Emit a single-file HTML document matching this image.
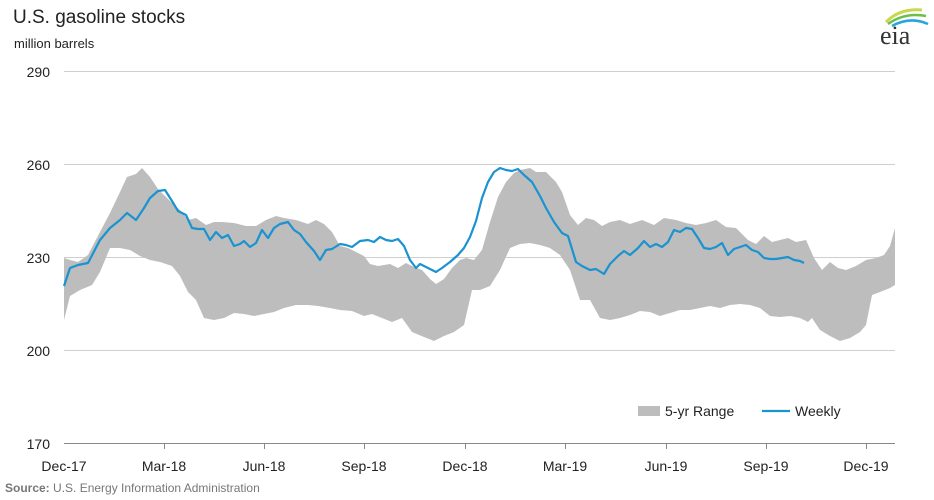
<!DOCTYPE html>
<html><head><style>
body{margin:0;background:#fff;}
svg{display:block;font-family:"Liberation Sans",Arial,sans-serif;}
</style></head><body>
<svg width="934" height="500" viewBox="0 0 934 500">
<text x="13" y="23" font-size="19" fill="#222">U.S. gasoline stocks</text>
<text x="14" y="48" font-size="13" fill="#222">million barrels</text>
<g stroke="#cfcfcf" stroke-width="1">
<line x1="64" y1="71.5" x2="895" y2="71.5"/>
<line x1="64" y1="164.5" x2="895" y2="164.5"/>
<line x1="64" y1="257.5" x2="895" y2="257.5"/>
<line x1="64" y1="350.5" x2="895" y2="350.5"/>
</g>
<g font-size="14" fill="#222" text-anchor="end">
<text x="50" y="77">290</text><text x="50" y="170">260</text><text x="50" y="263">230</text><text x="50" y="356">200</text><text x="50" y="449">170</text>
</g>
<polygon fill="#bdbdbd" points="64,258 70,260 78,262 88,255 100,232 110,213 120,192 127,177 136,174 142,168 150,177 158,189 164,195 172,203 180,210 188,220 196,218 206,225 214,222 222,222 234,223 246,226 256,226 266,220 276,216 284,218 296,220 308,224 316,220 324,224 332,232 340,246 348,248 356,252 364,256 370,264 378,266 390,264 398,268 406,263 414,267 422,270 430,279 436,284 444,279 452,268 460,260 466,258 474,260 482,250 490,222 498,197 506,182 514,173 520,170 530,168 536,172 546,172 556,182 562,192 570,215 578,225 586,218 594,220 602,226 610,222 620,220 630,224 642,220 654,225 664,218 676,220 686,223 696,225 706,223 716,220 726,227 736,228 748,240 756,244 764,236 772,242 780,240 788,238 796,242 806,240 814,258 822,270 830,262 838,268 846,270 856,266 866,260 876,258 884,255 890,246 895,228 895,285 890,288 880,292 872,295 866,325 860,332 850,338 840,341 830,336 820,330 812,318 808,322 800,318 790,316 780,317 770,316 760,308 750,305 740,304 730,305 720,308 710,306 700,308 690,310 680,310 670,313 660,316 650,312 640,311 630,315 620,318 610,320 600,318 590,300 580,300 570,270 560,255 550,248 540,245 530,243 520,244 510,248 500,270 490,286 480,290 472,290 464,325 454,332 444,336 434,341 424,337 412,332 402,318 392,322 382,318 372,314 364,316 352,311 340,310 330,308 318,306 308,305 296,305 284,308 274,312 264,314 254,316 244,314 234,313 224,318 214,320 204,318 196,300 188,292 180,276 172,266 160,262 150,260 140,256 130,250 120,248 110,248 100,272 92,285 80,290 70,296 64,320"/>
<polyline fill="none" stroke="#1a93d0" stroke-width="2.2" stroke-linejoin="round" points="64,286 70,268 78,265 88,263 100,240 110,228 120,220 127,213 136,220 144,208 150,198 158,191 165,190 172,201 178,211 186,215 192,228 198,229 204,229 210,240 216,232 222,238 228,235 234,246 240,244 244,241 250,247 256,243 262,230 268,238 274,228 280,224 288,222 294,230 300,234 306,242 314,251 320,260 326,250 332,249 340,244 346,245 352,247 360,241 368,240 374,242 380,237 386,240 392,241 398,239 404,246 410,260 416,268 420,264 428,268 436,272 442,268 450,262 458,255 464,248 470,237 476,221 482,198 488,182 494,172 500,168 506,170 512,171 518,169 524,175 532,182 540,196 546,208 554,222 562,233 568,236 576,262 582,266 590,270 596,269 604,274 610,264 618,256 624,251 630,255 638,248 644,241 650,247 656,244 662,247 668,242 674,230 680,232 686,228 692,229 698,238 704,248 710,249 716,247 722,243 728,255 734,249 740,247 746,245 752,250 758,252 764,258 770,259 776,259 782,258 788,257 794,260 800,261 804,263"/>
<line x1="64" y1="443.5" x2="895" y2="443.5" stroke="#888" stroke-width="1"/>
<g stroke="#888" stroke-width="1">
<line x1="164.5" y1="443" x2="164.5" y2="449"/><line x1="264.5" y1="443" x2="264.5" y2="449"/><line x1="364.5" y1="443" x2="364.5" y2="449"/><line x1="465.5" y1="443" x2="465.5" y2="449"/><line x1="565.5" y1="443" x2="565.5" y2="449"/><line x1="666.5" y1="443" x2="666.5" y2="449"/><line x1="766.5" y1="443" x2="766.5" y2="449"/><line x1="866.5" y1="443" x2="866.5" y2="449"/>
</g>
<g font-size="14" fill="#222" text-anchor="middle">
<text x="64" y="471">Dec-17</text><text x="164" y="471">Mar-18</text><text x="264" y="471">Jun-18</text><text x="364" y="471">Sep-18</text><text x="465" y="471">Dec-18</text><text x="565" y="471">Mar-19</text><text x="666" y="471">Jun-19</text><text x="766" y="471">Sep-19</text><text x="866" y="471">Dec-19</text>
</g>
<text x="5" y="492" font-size="12" fill="#777"><tspan font-weight="bold">Source:</tspan> U.S. Energy Information Administration</text>
<rect x="638" y="406" width="22" height="10" fill="#bdbdbd"/>
<text x="665" y="416" font-size="14" fill="#222">5-yr Range</text>
<line x1="762" y1="411" x2="790" y2="411" stroke="#1a93d0" stroke-width="2.2"/>
<text x="795" y="416" font-size="14" fill="#222">Weekly</text>
<path d="M886,22 Q900,8 922,10" stroke="#c8d84a" stroke-width="3" fill="none"/>
<path d="M888,24 Q905,12 926,16" stroke="#6cbf4a" stroke-width="2.5" fill="none"/>
<path d="M892,26 Q910,16 928,24" stroke="#29a3dc" stroke-width="2.5" fill="none"/>
<text x="880" y="44" font-size="26" fill="#333" font-family="Liberation Serif,serif">eia</text>
</svg>
</body></html>
